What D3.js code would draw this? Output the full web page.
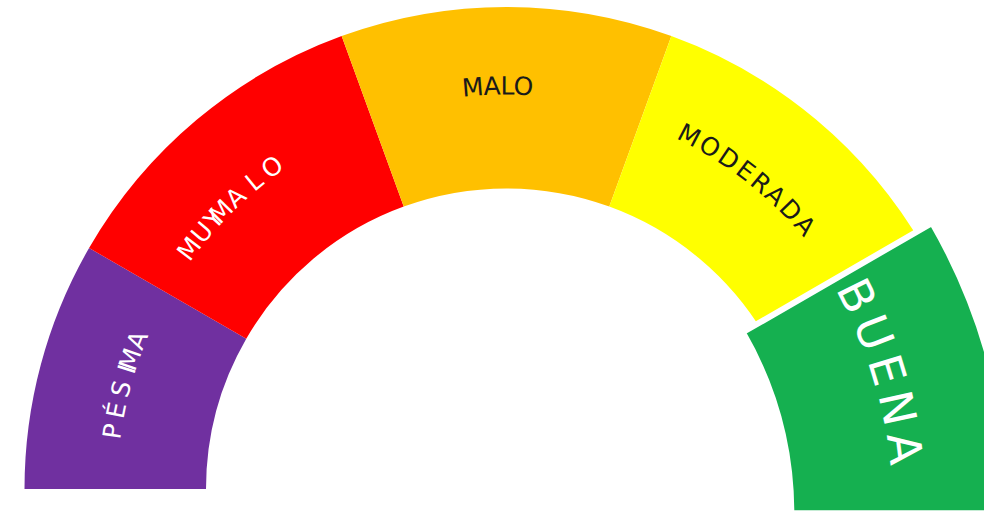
<!DOCTYPE html>
<html>
<head>
<meta charset="utf-8">
<script src="https://cdn.jsdelivr.net/npm/d3@7"></script>
<style>
  body { margin: 0; background: #fff; }
  svg { display: block; }
</style>
</head>
<body>
<div id="gauge"></div>
<script>
// gauge categories and the share of the half circle each one takes
var categories = ["PÉSIMA", "MUY MALO", "MALO", "MODERADA", "BUENA"];
var values = [30, 40, 40, 40, 30];
var colors = ["#7030a0", "#ff0000", "#ffc000", "#ffff00", "#15b050"];
var highlighted = "BUENA";

// label styling (the source draws its curved labels a bit unevenly)
var labelColors = ["#ffffff", "#ffffff", "#1a1a1a", "#1a1a1a", "#ffffff"];
var labelSizes = [25, 25, 25, 25, 38];
var letterSpacing = [1, 1, 0, 3, 6.8];
var labelShift = [2, -31, -9, -14, -13];
var labelLift = [0, 0, 5, 0, 0];
var letterShift = [
  [0, 5, 5, 8, -5, 0],
  [0, 0, 0, 0, -18, 0, 8, 6],
  [0],
  [0],
  [0]
];

// setting the dimensions
var width = 984,
    height = 514,
    cx = 506.5,
    cy = 489,
    rInner = 300.5,
    rOuter = 482;

var svg = d3.select("#gauge").append("svg")
    .attr("width", width)
    .attr("height", height)
  .append("g")
    .attr("transform", "translate(" + cx + "," + cy + ")");

// half pie from left to right
var pie = d3.pie()
    .sort(null)
    .startAngle(-Math.PI / 2)
    .endAngle(Math.PI / 2)
    .value(function(d) { return d.value; });

var arc = d3.arc()
    .innerRadius(rInner)
    .outerRadius(rOuter);

var data = pie(categories.map(function(c, i) {
  return {name: c, value: values[i], color: colors[i], label: labelColors[i],
          size: labelSizes[i], ls: letterSpacing[i], shift: labelShift[i],
          lift: labelLift[i], dx: letterShift[i]};
}));

// highlighted slice is drawn last, bigger and pulled out
data.sort(function(a, b) {
  return (a.data.name === highlighted) - (b.data.name === highlighted);
});

var slices = svg.selectAll(".slice")
    .data(data)
  .enter()
    .append("g")
    .attr("class", "slice")
    .attr("transform", function(d) {
      return d.data.name === highlighted ? "translate(-77.3,24.3) scale(1.205)" : null;
    });

slices.append("path")
    .attr("d", arc)
    .style("fill", function(d) { return d.data.color; })
    .style("stroke", function(d) { return d.data.name === highlighted ? "#ffffff" : "none"; })
    .style("stroke-width", 5);

// path a little outside the middle of the ring for the curved labels
var rText = (rInner + rOuter) / 2 + 7;
slices.append("path")
    .attr("id", function(d, i) { return "lab" + i; })
    .attr("d", function(d) {
      var p = d3.path();
      p.arc(0, 0, rText + d.data.lift, d.startAngle - Math.PI / 2, d.endAngle - Math.PI / 2);
      return p.toString();
    })
    .style("fill", "none");

slices.append("text")
    .attr("dy", "0.35em")
    .attr("dx", function(d) { return d.data.dx.join(" "); })
    .style("font-family", "DejaVu Sans, sans-serif")
    .style("font-size", function(d) { return d.data.size + "px"; })
    .style("letter-spacing", function(d) { return d.data.ls + "px"; })
    .style("fill", function(d) { return d.data.label; })
  .append("textPath")
    .attr("href", function(d, i) { return "#lab" + i; })
    .attr("startOffset", function(d) {
      return (rText + d.data.lift) * (d.endAngle - d.startAngle) / 2 + d.data.shift;
    })
    .attr("text-anchor", "middle")
    .text(function(d) { return d.data.name; });
</script>
</body>
</html>
